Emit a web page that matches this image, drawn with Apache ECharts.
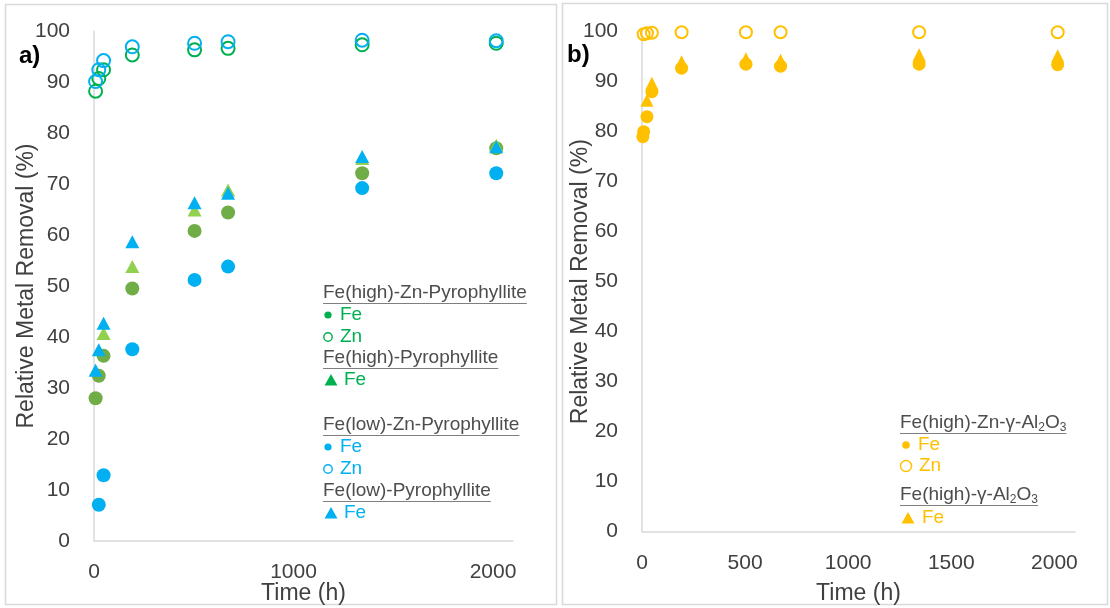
<!DOCTYPE html>
<html>
<head>
<meta charset="utf-8">
<script src="https://cdn.jsdelivr.net/npm/echarts@6/dist/echarts.min.js"></script>
<style>
  html, body { margin: 0; padding: 0; background: #ffffff; }
  #chart { width: 1110px; height: 608px; }
</style>
</head>
<body>
<div id="chart"></div>
<script>
// ---- Panel a) pyrophyllite sorbents: sampling times (h) and removal (%) ----
const hiZnFeTime = [8, 24, 48, 192, 504, 672, 1344, 2016];
const hiZnFeVal  = [28.0, 32.4, 36.3, 49.5, 60.8, 64.4, 72.1, 77.0];
const hiZnZnTime = [8, 24, 48, 192, 504, 672, 1344, 2016];
const hiZnZnVal  = [88.2, 90.7, 92.4, 95.3, 96.3, 96.6, 97.3, 97.6];
const hiFeTime   = [48, 192, 504, 672, 1344, 2016];
const hiFeVal    = [40.7, 53.8, 64.9, 68.8, 75.0, 77.6];
const loZnFeTime = [24, 48, 192, 504, 672, 1344, 2016];
const loZnFeVal  = [7.1, 12.9, 37.6, 51.2, 53.8, 69.2, 72.1];
const loZnZnTime = [8, 24, 48, 192, 504, 672, 1344, 2016];
const loZnZnVal  = [90.1, 92.4, 94.2, 96.9, 97.6, 97.9, 98.2, 98.1];
const loFeTime   = [8, 24, 48, 192, 504, 672, 1344, 2016];
const loFeVal    = [33.5, 37.5, 42.7, 58.7, 66.3, 68.2, 75.4, 77.3];

// ---- Panel b) gamma-alumina sorbents ----
const alZnFeTime = [4, 8, 24, 48, 192, 504, 672, 1344, 2016];
const alZnFeVal  = [79.0, 80.0, 83.0, 88.0, 92.7, 93.5, 93.1, 93.5, 93.4];
const alZnZnTime = [8, 24, 48, 192, 504, 672, 1344, 2016];
const alZnZnVal  = [99.5, 99.7, 99.8, 99.9, 99.9, 99.9, 99.9, 99.9];
const alFeTime   = [24, 48, 192, 504, 672, 1344, 2016];
const alFeVal    = [86.3, 89.7, 94.0, 94.6, 94.3, 95.4, 95.2];

// ---- Axis tick settings ----
const yTicks = { min: 0, max: 100, interval: 10 };
const xTicksA = { min: 0, max: 2100, interval: 1000 };
const xTicksB = { min: 0, max: 2100, interval: 500 };

const pairs = (t, v) => t.map((x, i) => [x, v[i]]);

const FONT = '"Liberation Sans", Arial, Helvetica, sans-serif';
const GREEN_DARK = '#70AD47', GREEN = '#00B050', GREEN_LIGHT = '#92D050';
const BLUE = '#00B0F0', ORANGE = '#FFC000';
const AXIS_TXT = '#404040', HEAD_TXT = '#4D4D4D', AXIS = '#D9D9D9';

const measureCtx = document.createElement('canvas').getContext('2d');
function textWidth(str, size) {
  measureCtx.font = size + 'px ' + FONT;
  return measureCtx.measureText(str).width;
}

function xAxisCfg(grid, ticks, step, gap, margin) {
  return {
    gridIndex: grid, type: 'value', min: ticks.min, max: ticks.max, interval: ticks.interval,
    axisLine: { show: true, onZero: false, lineStyle: { color: AXIS, width: 1.5 } },
    axisTick: { show: false }, splitLine: { show: false },
    axisLabel: { color: AXIS_TXT, fontSize: 21, fontFamily: FONT, margin: margin,
      formatter: v => (v % step === 0 ? String(v) : '') },
    name: 'Time (h)', nameLocation: 'middle', nameGap: gap, nameMoveOverlap: false,
    nameTextStyle: { color: AXIS_TXT, fontSize: 23, fontFamily: FONT }
  };
}
function yAxisCfg(grid, gap) {
  return {
    gridIndex: grid, type: 'value', min: yTicks.min, max: yTicks.max, interval: yTicks.interval,
    axisLine: { show: true, lineStyle: { color: AXIS, width: 1.5 } },
    axisTick: { show: false }, splitLine: { show: false },
    axisLabel: { color: AXIS_TXT, fontSize: 21, fontFamily: FONT, margin: 24 },
    name: 'Relative Metal Removal (%)', nameLocation: 'middle', nameGap: gap, nameMoveOverlap: false,
    nameTextStyle: { color: AXIS_TXT, fontSize: 23, fontFamily: FONT }
  };
}

function filled(grid, data, symbol, size, color) {
  return { type: 'scatter', xAxisIndex: grid, yAxisIndex: grid, data: data,
    symbol: symbol, symbolSize: size, itemStyle: { color: color, opacity: 1 } };
}
function hollow(grid, data, size, color) {
  return { type: 'scatter', xAxisIndex: grid, yAxisIndex: grid, data: data,
    symbol: 'circle', symbolSize: size,
    itemStyle: { color: 'rgba(0,0,0,0)', borderColor: color, borderWidth: 2, opacity: 1 } };
}

// ---- Legend blocks drawn as text with underlined headings ----
const graphics = [];
function heading(x, y, parts) {
  // parts: [[text, isSubscript], ...]
  let rich = {}, str = '', w = 0;
  parts.forEach(([t, sub]) => {
    str += '{' + (sub ? 's' : 'n') + '|' + t + '}';
    w += textWidth(t, sub ? 12 : 19);
  });
  rich.n = { fontSize: 19, fontFamily: FONT, fill: HEAD_TXT, color: HEAD_TXT, lineHeight: 22, verticalAlign: 'middle' };
  rich.s = { fontSize: 12, fontFamily: FONT, fill: HEAD_TXT, color: HEAD_TXT, lineHeight: 12, verticalAlign: 'bottom' };
  graphics.push({ type: 'text', x: x, y: y, silent: true,
    style: { text: str, rich: rich, fill: HEAD_TXT, font: '19px ' + FONT, verticalAlign: 'middle', align: 'left' } });
  graphics.push({ type: 'line', silent: true,
    shape: { x1: x, y1: y + 10.5, x2: x + w, y2: y + 10.5 },
    style: { stroke: '#7F7F7F', lineWidth: 1 } });
}
function itemText(x, y, txt, color) {
  graphics.push({ type: 'text', x: x, y: y, silent: true,
    style: { text: txt, fill: color, font: '19px ' + FONT, verticalAlign: 'middle', align: 'left' } });
}
function dotItem(x, y, r, color, txt, tx, txtColor) {
  graphics.push({ type: 'circle', silent: true, shape: { cx: x, cy: y, r: r }, style: { fill: color } });
  itemText(tx, y, txt, txtColor);
}
function ringItem(x, y, r, color, txt, tx, txtColor) {
  graphics.push({ type: 'circle', silent: true, shape: { cx: x, cy: y, r: r },
    style: { fill: 'none', stroke: color, lineWidth: 1.4 } });
  itemText(tx, y, txt, txtColor);
}
function triItem(x, y, color, txt, tx, txtColor) {
  graphics.push({ type: 'polygon', silent: true,
    shape: { points: [[x - 6.5, y + 5.5], [x + 6.5, y + 5.5], [x, y - 6]] }, style: { fill: color } });
  itemText(tx, y, txt, txtColor);
}

// panel frames
graphics.push({ type: 'rect', silent: true, shape: { x: 5.5, y: 4.5, width: 551, height: 600 },
  style: { fill: 'none', stroke: AXIS, lineWidth: 1.5 } });
graphics.push({ type: 'rect', silent: true, shape: { x: 562.5, y: 3.5, width: 545, height: 601 },
  style: { fill: 'none', stroke: AXIS, lineWidth: 1.5 } });

// panel tags
graphics.push({ type: 'text', x: 19, y: 56, silent: true,
  style: { text: 'a)', fill: '#000', font: 'bold 24px ' + FONT, verticalAlign: 'middle' } });
graphics.push({ type: 'text', x: 567, y: 55, silent: true,
  style: { text: 'b)', fill: '#000', font: 'bold 24px ' + FONT, verticalAlign: 'middle' } });

// legend, panel a
heading(323, 293, [['Fe(high)-Zn-Pyrophyllite']]);
dotItem(328, 315, 3.6, GREEN, 'Fe', 340, GREEN);
ringItem(328, 337, 4.2, GREEN, 'Zn', 340, GREEN);
heading(323, 358, [['Fe(high)-Pyrophyllite']]);
triItem(331, 380, GREEN, 'Fe', 344, GREEN);
heading(323, 425, [['Fe(low)-Zn-Pyrophyllite']]);
dotItem(328, 447, 3.6, BLUE, 'Fe', 340, BLUE);
ringItem(328, 469, 4.2, BLUE, 'Zn', 340, BLUE);
heading(323, 491, [['Fe(low)-Pyrophyllite']]);
triItem(331, 513, BLUE, 'Fe', 344, BLUE);

// legend, panel b
heading(900, 423, [['Fe(high)-Zn-γ-Al'], ['2', true], ['O'], ['3', true]]);
dotItem(906, 445, 3.8, ORANGE, 'Fe', 918, ORANGE);
ringItem(906, 466, 5.5, ORANGE, 'Zn', 919, ORANGE);
heading(900, 495, [['Fe(high)-γ-Al'], ['2', true], ['O'], ['3', true]]);
triItem(908, 518, ORANGE, 'Fe', 922, ORANGE);

const chart = echarts.init(document.getElementById('chart'), null, { renderer: 'canvas' });
chart.setOption({
  animation: false,
  backgroundColor: '#ffffff',
  grid: [
    { left: 94, top: 31, width: 419, height: 510, outerBoundsMode: 'none', containLabel: false },
    { left: 642, top: 31.7, width: 433, height: 500, outerBoundsMode: 'none', containLabel: false }
  ],
  xAxis: [ xAxisCfg(0, xTicksA, 1000, 41, 21), xAxisCfg(1, xTicksB, 500, 50, 21) ],
  yAxis: [ yAxisCfg(0, 56), yAxisCfg(1, 50) ],
  series: [
    filled(0, pairs(hiZnFeTime, hiZnFeVal), 'circle', 14, GREEN_DARK),
    hollow(0, pairs(hiZnZnTime, hiZnZnVal), 13, GREEN),
    filled(0, pairs(hiFeTime, hiFeVal), 'triangle', [14, 13], GREEN_LIGHT),
    filled(0, pairs(loZnFeTime, loZnFeVal), 'circle', 14, BLUE),
    hollow(0, pairs(loZnZnTime, loZnZnVal), 13, BLUE),
    filled(0, pairs(loFeTime, loFeVal), 'triangle', [14, 13], BLUE),
    filled(1, pairs(alZnFeTime, alZnFeVal), 'circle', 13, ORANGE),
    hollow(1, pairs(alZnZnTime, alZnZnVal), 12, ORANGE),
    filled(1, pairs(alFeTime, alFeVal), 'triangle', [13, 13], ORANGE)
  ],
  graphic: graphics
});
</script>
</body>
</html>
